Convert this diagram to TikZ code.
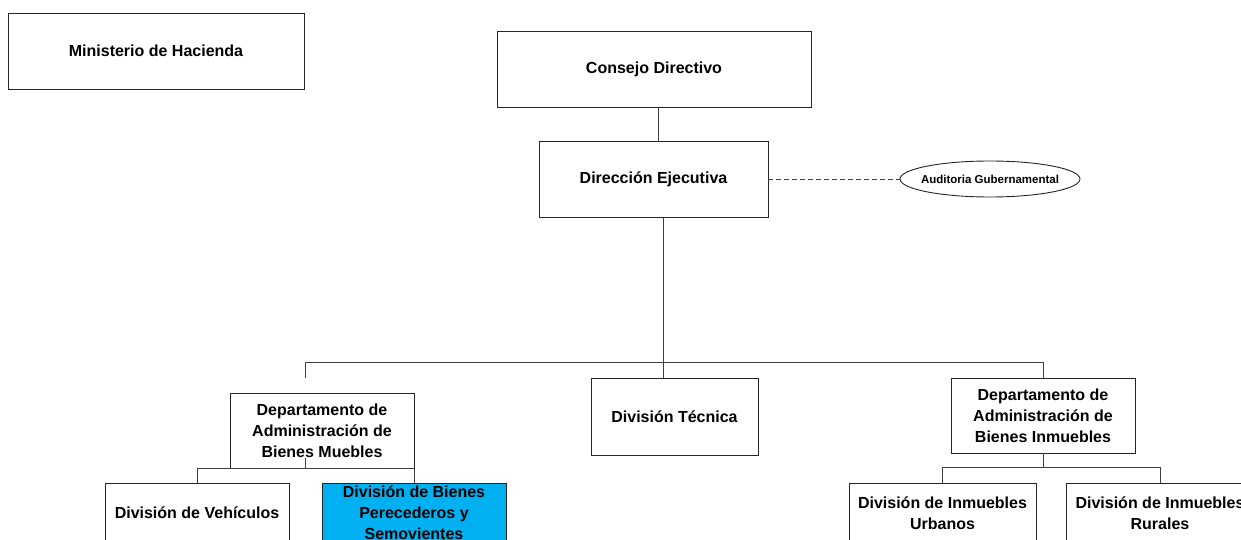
\documentclass[tikz,border=0pt]{standalone}
\usepackage{fontspec}
\setmainfont{Liberation Sans}
\usetikzlibrary{shapes.geometric}
\definecolor{perblue}{RGB}{0,176,240}
\begin{document}
\begin{tikzpicture}[x=1pt,y=-1pt,
  unit/.style={draw=black!85, line width=0.9pt, fill=white, inner sep=0pt, align=center,
               font=\fontsize{16}{21}\selectfont\bfseries},
  link/.style={draw=black!75, line width=0.9pt},
  audit/.style={ellipse, draw=black!85, line width=0.9pt, fill=white,
                inner xsep=-13pt, inner ysep=0pt,
                minimum width=180pt, minimum height=36pt,
                font=\fontsize{11.5}{13}\selectfont\bfseries}]
\useasboundingbox (0,0) rectangle (1241,540);
\clip (0,0) rectangle (1241,540);

% top level
\node[unit, minimum width=296pt, minimum height=76pt] (mh) at (156,51) {Ministerio de Hacienda};
\node[unit, minimum width=314pt, minimum height=76pt] (cd) at (654,69) {Consejo Directivo};
\node[unit, minimum width=229pt, minimum height=76pt] (de) at (653.5,179) {Dirección Ejecutiva};
\node[audit] (ag) at (990,179) {Auditoria Gubernamental};

% departments
\node[unit, minimum width=184pt, minimum height=75pt] (dm) at (322,430.5)
  {Departamento de\\Administración de\\Bienes Muebles};
\node[unit, minimum width=167pt, minimum height=77pt] (dt) at (674.5,416.5) {División Técnica};
\node[unit, minimum width=184pt, minimum height=75pt] (di) at (1043,415.5)
  {Departamento de\\Administración de\\Bienes Inmuebles};

% divisions
\node[unit, minimum width=184pt, minimum height=60pt] (dv) at (197,513) {División de Vehículos};
\node[unit, fill=perblue, minimum width=184pt, minimum height=60pt] (dp) at (414,513)
  {División de Bienes\\Perecederos y\\Semovientes};
\node[unit, minimum width=187pt, minimum height=60pt] (iu) at (942.5,513) {División de Inmuebles\\Urbanos};
\node[unit, minimum width=188pt, minimum height=60pt] (ir) at (1160,513) {División de Inmuebles\\Rurales};

% junction points
\coordinate (bus)  at (663,362);
\coordinate (busL) at (305,362);
\coordinate (busR) at (1043,362);
\coordinate (dmtip) at (305,378);
\coordinate (dmk) at (305,458);
\coordinate (dmj) at (305,468);
\coordinate (dij) at (1043,467);

% connectors
\draw[link] ([xshift=4pt]cd.south) -- ([xshift=4.5pt]de.north);
\draw[link] ([xshift=9.5pt]de.south) -- (bus);
\draw[link, dash pattern=on 5pt off 3pt] (de.east) -- (ag.west);
\draw[link] (busL) -- (busR);
\draw[link] (busL) -- (dmtip);
\draw[link] (bus) -- (bus |- dt.north);
\draw[link] (busR) -- (di.north);
\draw[link] (dmk) -- (dmj);
\draw[link] (dv.north) -- (dv.north |- dmj) -- (dp.north |- dmj) -- (dp.north);
\draw[link] (di.south) -- (dij);
\draw[link] (iu.north) -- (iu.north |- dij) -- (ir.north |- dij) -- (ir.north);
\end{tikzpicture}
\end{document}
